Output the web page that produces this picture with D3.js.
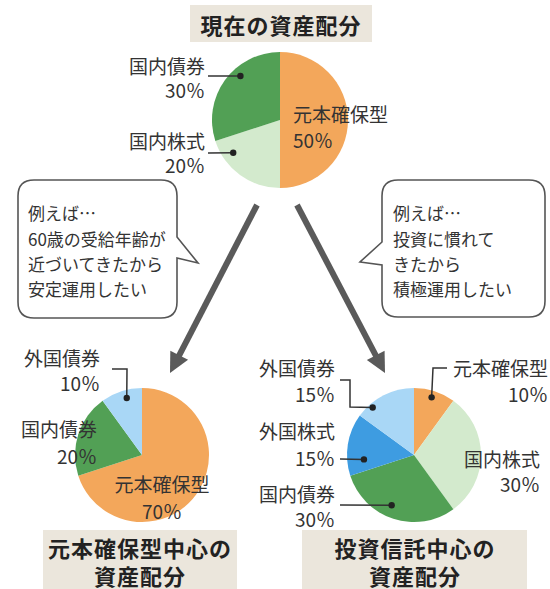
<!DOCTYPE html>
<html>
<head>
<meta charset="utf-8">
<script src="https://cdn.jsdelivr.net/npm/d3@7"></script>
<style>
  body { margin: 0; background: #fff; }
  svg { display: block; font-family: "Noto Sans CJK JP", "Noto Sans", sans-serif; }
</style>
</head>
<body>
<div id="chart"></div>
<script>
// Data
const currentCats = ["元本確保型", "国内株式", "国内債券"];
const currentVals = [50, 20, 30];
const safeCats = ["元本確保型", "国内債券", "外国債券"];
const safeVals = [70, 20, 10];
const fundCats = ["元本確保型", "国内株式", "国内債券", "外国株式", "外国債券"];
const fundVals = [10, 30, 30, 15, 15];
const bubbleLeft = ["例えば…", "60歳の受給年齢が", "近づいてきたから", "安定運用したい"];
const bubbleRight = ["例えば…", "投資に慣れて", "きたから", "積極運用したい"];

const W = 550, H = 589;
const svg = d3.select("#chart").append("svg")
  .attr("width", W).attr("height", H);

const color = d3.scaleOrdinal()
  .domain(["元本確保型", "国内株式", "国内債券", "外国株式", "外国債券"])
  .range(["#f3a75b", "#d3eacd", "#52a055", "#3e9ce1", "#a9d7f6"]);

const textColor = "#333";
const pie = d3.pie().sort(null).value(d => d.v);

// draws one pie, returns helper to get a point at (angle, radius fraction)
function drawPie(cx, cy, r, cats, vals) {
  const g = svg.append("g").attr("transform", `translate(${cx},${cy})`);
  const arcs = pie(cats.map((c, i) => ({ c, v: vals[i] })));
  g.selectAll("path").data(arcs).join("path")
    .attr("d", d3.arc().innerRadius(0).outerRadius(r))
    .attr("fill", d => color(d.data.c));
  return (cat, deg, rf) => {
    const a = deg * Math.PI / 180;
    return [cx + Math.sin(a) * r * rf, cy - Math.cos(a) * r * rf];
  };
}

function label(lines, x, y, anchor, size) {
  lines.forEach((t, i) => {
    svg.append("text")
      .attr("x", x).attr("y", y[i])
      .attr("text-anchor", anchor)
      .attr("dominant-baseline", "central")
      .style("font-size", (size || 19) + "px")
      .style("fill", textColor)
      .text(t);
  });
}

function leader(points, dot) {
  svg.append("path")
    .attr("d", d3.line()([...points, dot]))
    .attr("fill", "none").attr("stroke", "#333").attr("stroke-width", 1.5);
  svg.append("circle").attr("cx", dot[0]).attr("cy", dot[1]).attr("r", 3.2).attr("fill", "#222");
}

function titleBox(x0, y0, x1, y1, lines, ys, cx) {
  svg.append("rect").attr("x", x0).attr("y", y0)
    .attr("width", x1 - x0).attr("height", y1 - y0).attr("fill", "#ebe6dc");
  lines.forEach((t, i) => {
    svg.append("text").attr("x", cx).attr("y", ys[i])
      .attr("text-anchor", "middle").attr("dominant-baseline", "central")
      .style("font-size", "22px").style("font-weight", "bold")
      .style("letter-spacing", "1px")
      .style("fill", "#222").text(t);
  });
}

function pct(v) { return v + "％"; }

// Title top
titleBox(190, 5, 372, 42, ["現在の資産配分"], [24], 281);

// Top pie
const ptTop = drawPie(280, 120, 68, currentCats, currentVals);
label([currentCats[2], pct(currentVals[2])], 205, [65, 89], "end");
leader([[208, 76]], ptTop("国内債券", 318, 0.87));
label([currentCats[1], pct(currentVals[1])], 205, [140, 164], "end");
leader([[208, 153]], ptTop("国内株式", 235, 0.84));
label([currentCats[0], pct(currentVals[0])], 293, [113, 139], "start");

// Bubbles
function bubble(x0, y0, x1, y1, r, side, p) {
  const path = d3.path();
  path.moveTo(x0 + r, y0);
  path.lineTo(x1 - r, y0);
  path.quadraticCurveTo(x1, y0, x1, y0 + r);
  if (side === "right") {
    path.lineTo(x1, p[0]); path.lineTo(p[1], p[2]); path.lineTo(x1, p[3]);
  }
  path.lineTo(x1, y1 - r);
  path.quadraticCurveTo(x1, y1, x1 - r, y1);
  path.lineTo(x0 + r, y1);
  path.quadraticCurveTo(x0, y1, x0, y1 - r);
  if (side === "left") {
    path.lineTo(x0, p[3]); path.lineTo(p[1], p[2]); path.lineTo(x0, p[0]);
  }
  path.lineTo(x0, y0 + r);
  path.quadraticCurveTo(x0, y0, x0 + r, y0);
  path.closePath();
  svg.append("path").attr("d", path.toString())
    .attr("fill", "#fff").attr("stroke", "#555").attr("stroke-width", 1.6);
}
bubble(18, 180, 177, 318, 16, "right", [237, 198, 263, 258]);
label(bubbleLeft, 28, [212, 238, 263, 288], "start", 17);
bubble(382, 180, 545, 317, 16, "left", [242, 360, 262, 265]);
label(bubbleRight, 393, [212, 238, 263, 288], "start", 17);

// Arrows
function arrow(x0, y0, x1, y1) {
  const dx = x1 - x0, dy = y1 - y0, len = Math.hypot(dx, dy);
  const ux = dx / len, uy = dy / len;
  const hl = 20, hw = 10;
  const bx = x1 - ux * hl, by = y1 - uy * hl;
  svg.append("line").attr("x1", x0).attr("y1", y0).attr("x2", bx + ux * 2).attr("y2", by + uy * 2)
    .attr("stroke", "#5a5a5a").attr("stroke-width", 6);
  svg.append("path")
    .attr("d", d3.line()([[x1, y1], [bx - uy * hw, by + ux * hw], [bx + uy * hw, by - ux * hw]]) + "Z")
    .attr("fill", "#5a5a5a");
}
arrow(257, 205, 170, 373);
arrow(297, 205, 385, 373);

// Bottom left pie
const ptSafe = drawPie(142, 455, 67, safeCats, safeVals);
label([safeCats[2], pct(safeVals[2])], 100, [357, 382], "end");
leader([[112, 369], [127, 369]], ptSafe("外国債券", 345, 0.88));
label([safeCats[1], pct(safeVals[1])], 97, [428, 455], "end");
label([safeCats[0], pct(safeVals[0])], 162, [483, 510], "middle");
titleBox(43, 530, 237, 592, ["元本確保型中心の", "資産配分"], [547, 575], 140);

// Bottom right pie
const ptFund = drawPie(414, 455, 67, fundCats, fundVals);
label([fundCats[4], pct(fundVals[4])], 335, [367, 393], "end");
leader([[340, 380], [350, 380], [350, 407]], ptFund("外国債券", 319, 0.94));
label([fundCats[3], pct(fundVals[3])], 335, [430, 457], "end");
leader([[340, 459]], ptFund("外国株式", 265, 0.75));
label([fundCats[2], pct(fundVals[2])], 335, [493, 518], "end");
leader([[340, 505]], ptFund("国内債券", 204, 0.82));
label([fundCats[0], pct(fundVals[0])], 548, [367, 393], "end");
leader([[447, 368], [433, 368]], ptFund("元本確保型", 17, 0.9));
label([fundCats[1], pct(fundVals[1])], 540, [458, 483], "end");
titleBox(302, 530, 527, 592, ["投資信託中心の", "資産配分"], [547, 575], 415);
</script>
</body>
</html>
